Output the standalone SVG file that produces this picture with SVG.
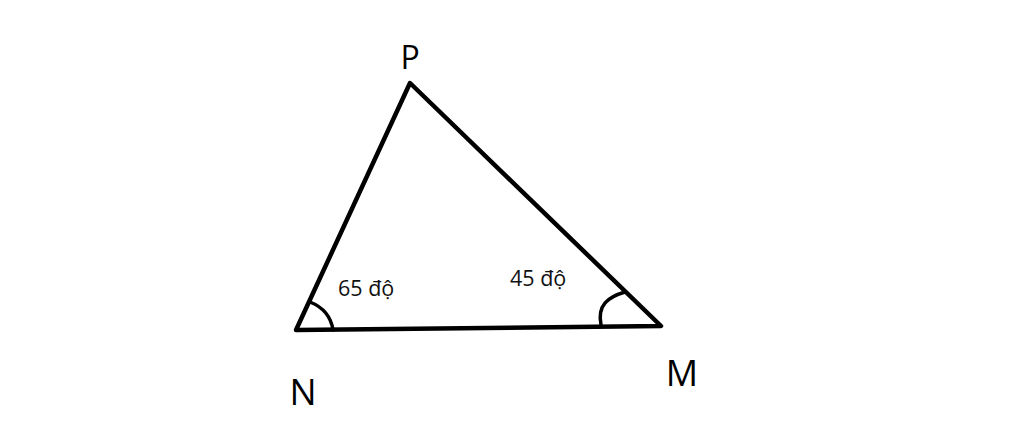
<svg xmlns="http://www.w3.org/2000/svg" width="1024" height="428" viewBox="0 0 1024 428">
<style>
.edge{fill:none;stroke:#000;stroke-width:4.5;stroke-linejoin:round;stroke-linecap:round}
.arc{fill:none;stroke:#000;stroke-width:3.5;stroke-linecap:round}
.v{font-family:"Open Sans","Noto Sans",sans-serif;fill:#000}
.a{font-family:"Open Sans","Noto Sans",sans-serif;font-size:21.5px;fill:#111}
</style>
<rect width="1024" height="428" fill="#fff"/>
<g id="connectors">
<path class="edge" d="M296,330 L410,83 L661,326 Z"/>
<path class="arc" d="M310,302 Q330,310 333,330"/>
<path class="arc" d="M601,325 C597,305 608,297 625,292"/>
</g>
<g id="P"><text class="v" x="410" y="69" font-size="32" text-anchor="middle">P</text></g>
<g id="N"><text class="v" x="303" y="405" font-size="36" text-anchor="middle">N</text></g>
<g id="M"><text class="v" x="682" y="386" font-size="36" text-anchor="middle">M</text></g>
<g id="angleN"><text class="a" x="338" y="296">65 độ</text></g>
<g id="angleM"><text class="a" x="510" y="286">45 độ</text></g>
</svg>
